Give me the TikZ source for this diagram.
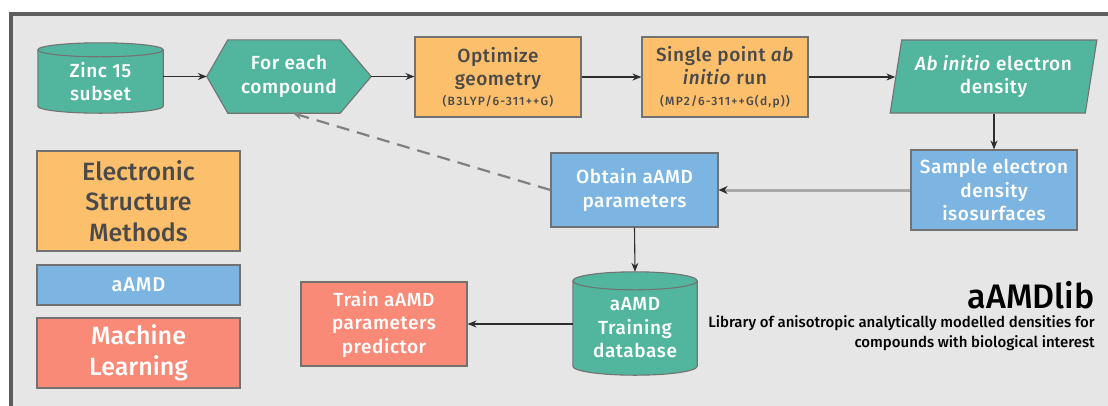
\documentclass[tikz,border=0pt]{standalone}
\usepackage{fontspec}
\setmainfont{Fira Sans}[BoldFont={Fira Sans Medium}, BoldItalicFont={Fira Sans Medium Italic}]
\usetikzlibrary{shapes.geometric,arrows.meta,calc}
\definecolor{cTeal}{HTML}{52B69E}
\definecolor{cOrange}{HTML}{FCBF6C}
\definecolor{cBlue}{HTML}{7DB5E2}
\definecolor{cSalmon}{HTML}{FA8A78}
\definecolor{cBg}{HTML}{E6E6E6}
\definecolor{cFrame}{HTML}{5E5E5E}
\definecolor{cBorder}{HTML}{727272}
\definecolor{cText}{HTML}{4A4A4A}
\definecolor{cLine}{HTML}{2E2E2E}
\definecolor{cGrayLine}{HTML}{A8A8A8}
\definecolor{cDash}{HTML}{808080}
\pgfdeclarelayer{back}
\pgfdeclarelayer{shp}
\pgfsetlayers{back,shp,main}
\newcommand{\mycyl}[2]{%
  \begin{pgfonlayer}{shp}
  \path[draw=cBorder, line width=1.1pt, fill=cTeal]
    let \p1=(#1.north west), \p2=(#1.south east), \n1={(\x2-\x1)/2} in
    (\x1,\y1) -- (\x1,\y2+#2pt)
    arc[start angle=180, end angle=360, x radius=\n1, y radius=#2pt]
    -- (\x2,\y1)
    arc[start angle=0, end angle=180, x radius=\n1, y radius=#2pt] -- cycle;
  \path[draw=cBorder, line width=1.1pt]
    let \p1=(#1.north west), \p2=(#1.south east), \n1={(\x2-\x1)/2} in
    (\x1,\y1) arc[start angle=180, end angle=360, x radius=\n1, y radius=#2pt];
  \end{pgfonlayer}}
\newcommand{\smalltxt}[1]{{\fontsize{12}{13}\selectfont\addfontfeature{LetterSpace=10}#1}}
\begin{document}
\begin{tikzpicture}[x=1pt,y=-1pt,
  boxtxt/.style={align=center, inner sep=0pt, font=\bfseries\fontsize{19}{23.5}\selectfont\addfontfeature{LetterSpace=3}},
  box/.style={boxtxt, draw=cBorder, line width=1.1pt},
  es/.style={box, fill=cOrange, text=cText},
  am/.style={box, fill=cBlue, text=white},
  ml/.style={box, fill=cSalmon, text=white},
  tl/.style={box, fill=cTeal, text=white},
  cyltxt/.style={boxtxt, text=white},
  conn/.style={draw=cLine, line width=1.1pt, -{Stealth[length=9pt,width=7pt]}},
  legbig/.style={font=\bfseries\fontsize{25}{30.5}\selectfont},
  legsmall/.style={font=\bfseries\fontsize{20}{22}\selectfont\addfontfeature{LetterSpace=4}},
]
\useasboundingbox (0,0) rectangle (1108,405);
\begin{pgfonlayer}{back}
\fill[white] (0,0) rectangle (1108,405);
\draw[cFrame, line width=3.5pt, fill=cBg] (11,14) rectangle (1140,440);
\end{pgfonlayer}

% top row
\node[cyltxt, minimum width=125pt, minimum height=63pt] (zinc) at (100.5,81.5) {Zinc 15\\subset};
\mycyl{zinc}{7}
\node[boxtxt, text=white, minimum width=164pt, minimum height=73pt] (hex) at (289,76.5) {For each\\compound};
\begin{pgfonlayer}{shp}
\draw[draw=cBorder, line width=1.1pt, fill=cTeal]
  (hex.west) -- ($(hex.north west)+(21,0)$) -- ($(hex.north east)+(-31,0)$)
  -- (hex.east) -- ($(hex.south east)+(-31,0)$) -- ($(hex.south west)+(21,0)$) -- cycle;
\end{pgfonlayer}
\node[es, minimum width=166pt, minimum height=80pt] (opt) at (498,77)
  {Optimize\\geometry\\[-4pt]\smalltxt{(B3LYP/6-311++G)}};
\node[es, minimum width=166pt, minimum height=80pt] (sp) at (725,77)
  {Single point \textit{ab}\\\textit{initio} run\\[-3pt]\smalltxt{(MP2/6-311++G(d,p))}};
\node[tl, trapezium, trapezium left angle=77, trapezium right angle=103,
  trapezium stretches=true, minimum width=207pt, minimum height=73pt] (par) at (993.5,76.5)
  {\textit{Ab initio} electron\\density};

% middle row
\node[am, minimum width=166pt, minimum height=80pt] (samp) at (994,190)
  {Sample electron\\density\\isosurfaces};
\node[am, minimum width=167pt, minimum height=74pt] (obt) at (634.5,190)
  {Obtain aAMD\\parameters};

% bottom row
\node[cyltxt, minimum width=124pt, minimum height=94pt] (db) at (635,328)
  {aAMD\\Training\\database};
\mycyl{db}{9}
\coordinate (dbtop) at ($(db.north)+(0,-9)$);
\node[ml, minimum width=166pt, minimum height=84pt] (train) at (384,324)
  {Train aAMD\\parameters\\predictor};

% legend
\node[es, legbig, minimum width=203pt, minimum height=100pt] (lgES) at (138.5,201)
  {Electronic\\Structure\\Methods};
\node[am, legsmall, minimum width=203pt, minimum height=40pt] (lgAM) at (138.5,285) {aAMD};
\node[ml, legbig, minimum width=203pt, minimum height=70pt] (lgML) at (138.5,353)
  {Machine\\Learning};

% title
\node[anchor=east, inner sep=0pt, font=\bfseries\fontsize{34}{34}\selectfont] (title) at (1095,295) {aAMDlib};
\node[anchor=north east, inner sep=0pt, align=right, font=\bfseries\fontsize{15}{20}\selectfont] (sub) at (1095,315)
  {Library of anisotropic analytically modelled densities for\\compounds with biological interest};

% connectors
\draw[conn] (zinc.east |- hex.west) -- (hex.west);
\draw[conn] (hex.east) -- (hex.east -| opt.west);
\draw[conn] (opt.east) -- (sp.west);
\draw[conn] (sp.east) -- (sp.east -| par.west);
\draw[conn] (samp.north |- par.bottom side) -- (samp.north);
\draw[draw=cGrayLine, line width=3pt, -{Stealth[length=9pt,width=8pt,color=cLine]}] (samp.west) -- (obt.east);
\draw[conn] (obt.south) -- (dbtop);
\draw[conn] (db.west |- train.east) -- (train.east);
\draw[draw=cDash, line width=2.2pt, dash pattern=on 13pt off 8pt, -{Stealth[length=9pt,width=8pt]}] (obt.west) -- ($(hex.south)+(4,0)$);
\end{tikzpicture}
\end{document}
